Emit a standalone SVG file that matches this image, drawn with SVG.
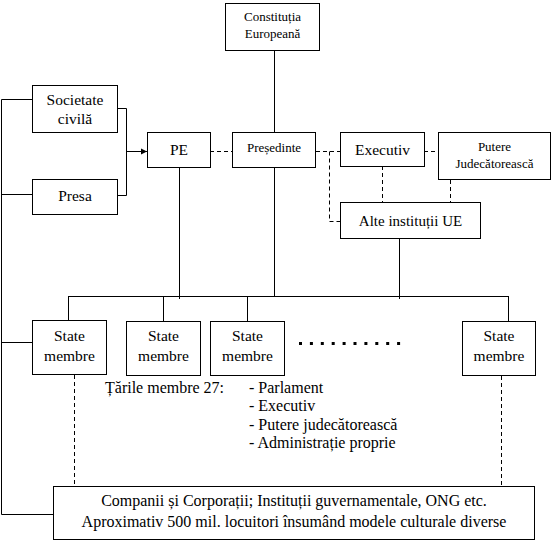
<svg xmlns="http://www.w3.org/2000/svg" width="554" height="542" viewBox="0 0 554 542">
<defs>
<marker id="arr" viewBox="0 0 10 10" refX="10" refY="5" markerWidth="6.5" markerHeight="6.5" markerUnits="userSpaceOnUse" orient="auto">
<path d="M0,0 L10,5 L0,10 z" fill="#000"/>
</marker>
<style>
rect{fill:#fff;stroke:#000;stroke-width:1}
.c path,.c line{fill:none;stroke:#000;stroke-width:1}
.c .d{stroke-dasharray:4 3}
text{font-family:'Liberation Serif','Times New Roman',serif;fill:#000;text-anchor:middle}
.b{font-size:15.5px}
.t16{font-size:16px}
.s{font-size:13px}
.l{text-anchor:start}
</style>
</defs>
<rect x="0" y="0" width="554" height="542" style="stroke:none"/>
<g class="c" id="connectors">
<line x1="274.5" y1="50" x2="274.5" y2="132"/>
<path d="M32,99.5 H1.5 V514.5 H53"/>
<line x1="1.5" y1="194.5" x2="32" y2="194.5"/>
<line x1="1.5" y1="342.5" x2="32" y2="342.5"/>
<path d="M117,108.5 H126.5 V195.5 H117"/>
<line x1="126.5" y1="151.5" x2="147" y2="151.5" marker-end="url(#arr)"/>
<line x1="179.5" y1="167" x2="179.5" y2="299"/>
<line x1="274.5" y1="167" x2="274.5" y2="296"/>
<line x1="399.5" y1="238" x2="399.5" y2="299"/>
<line x1="68" y1="296.5" x2="509" y2="296.5"/>
<line x1="68.5" y1="296" x2="68.5" y2="320"/>
<line x1="163.5" y1="296" x2="163.5" y2="321"/>
<line x1="247.5" y1="296" x2="247.5" y2="321"/>
<line x1="508.5" y1="296" x2="508.5" y2="321"/>
<line class="d" x1="210" y1="151.5" x2="232" y2="151.5"/>
<line class="d" x1="316" y1="151.5" x2="340" y2="151.5"/>
<path class="d" d="M329.5,151.5 V221.5 H340"/>
<line class="d" x1="424" y1="151.5" x2="438" y2="151.5"/>
<line class="d" x1="382.5" y1="166" x2="382.5" y2="202"/>
<line class="d" x1="450.5" y1="180" x2="450.5" y2="202"/>
<line class="d" x1="74.5" y1="375" x2="74.5" y2="486"/>
<line class="d" x1="501.5" y1="376" x2="501.5" y2="486"/>
</g>
<g id="constitutia">
<rect x="225.5" y="3.5" width="94" height="47"/>
<text class="s" x="272.5" y="21">Constituția</text>
<text class="s" x="272.5" y="37.5">Europeană</text>
</g>
<g id="societate">
<rect x="32.5" y="85.5" width="85" height="47"/>
<text class="b" x="75" y="105">Societate</text>
<text class="b" x="75" y="123.5">civilă</text>
</g>
<g id="presa">
<rect x="32.5" y="179.5" width="85" height="35"/>
<text class="b" x="75" y="201">Presa</text>
</g>
<g id="pe">
<rect x="147.5" y="132.5" width="63" height="35"/>
<text class="b" x="179" y="155">PE</text>
</g>
<g id="presedinte">
<rect x="232.5" y="132.5" width="83" height="35"/>
<text class="s" x="274" y="152">Președinte</text>
</g>
<g id="executiv">
<rect x="340.5" y="132.5" width="84" height="34"/>
<text class="b" x="382.5" y="154.5">Executiv</text>
</g>
<g id="putere">
<rect x="438.5" y="132.5" width="112" height="47"/>
<text class="s" x="494.5" y="151">Putere</text>
<text class="s" x="494.5" y="168">Judecătorească</text>
</g>
<g id="alte">
<rect x="340.5" y="202.5" width="140" height="36"/>
<text class="b" x="410.5" y="226" style="font-size:15px">Alte instituții UE</text>
</g>
<g id="state1">
<rect x="32.5" y="320.5" width="74" height="54"/>
<text class="b" x="69.5" y="340.5">State</text>
<text class="b" x="69.5" y="360.5">membre</text>
</g>
<g id="state2">
<rect x="126.5" y="321.5" width="74" height="54"/>
<text class="b" x="163.5" y="341">State</text>
<text class="b" x="163.5" y="361">membre</text>
</g>
<g id="state3">
<rect x="210.5" y="321.5" width="74" height="54"/>
<text class="b" x="247.5" y="341">State</text>
<text class="b" x="247.5" y="361">membre</text>
</g>
<g id="state4">
<rect x="462.5" y="321.5" width="73" height="54"/>
<text class="b" x="499" y="341">State</text>
<text class="b" x="499" y="361">membre</text>
</g>
<line x1="299" y1="343.5" x2="402" y2="343.5" stroke="#000" stroke-width="3" stroke-dasharray="3 7.9"/>
<g id="tarile">
<text class="t16 l" x="105" y="393">Țările membre 27:</text>
<text class="t16 l" x="249" y="393">- Parlament</text>
<text class="t16 l" x="249" y="411">- Executiv</text>
<text class="t16 l" x="249" y="429.5">- Putere judecătorească</text>
<text class="t16 l" x="249" y="448">- Administrație proprie</text>
</g>
<g id="companii">
<rect x="53.5" y="486.5" width="481" height="53"/>
<text class="t16" x="294" y="506">Companii și Corporații; Instituții guvernamentale, ONG etc.</text>
<text class="t16" x="294" y="526.5">Aproximativ 500 mil. locuitori însumând modele culturale diverse</text>
</g>
</svg>
